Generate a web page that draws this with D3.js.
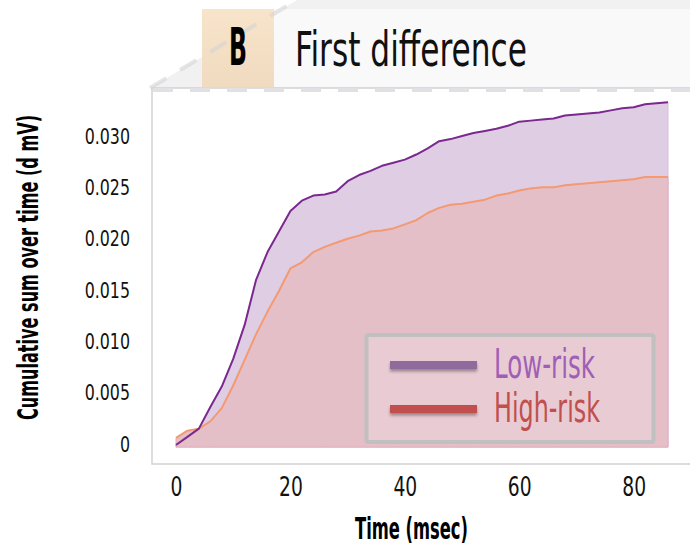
<!DOCTYPE html>
<html>
<head>
<meta charset="utf-8">
<script src="https://cdn.jsdelivr.net/npm/d3@7/dist/d3.min.js"></script>
<style>
  html, body { margin: 0; padding: 0; background: #ffffff; }
  svg { display: block; }
  text { font-family: "Liberation Sans Narrow", "DejaVu Sans Condensed", "Liberation Sans", Roboto, sans-serif; }
</style>
</head>
<body>
<svg id="chart" width="690" height="545"></svg>
<script>
// ---- data ----
const timeMs = [0, 2, 4, 6, 8, 10, 12, 14, 16, 18, 20, 22, 24, 26, 28, 30, 32, 34, 36, 38, 40, 42,
                44, 46, 48, 50, 52, 54, 56, 58, 60, 62, 64, 66, 68, 70, 72, 74, 76, 78, 80, 82, 84, 86];
const lowRisk = [-0.0002, 0.0006, 0.0014, 0.0035, 0.0055, 0.0082, 0.0115, 0.0159, 0.0186, 0.0206,
                 0.0226, 0.0236, 0.0241, 0.0242, 0.0245, 0.0255, 0.0261, 0.0265, 0.0270, 0.0273,
                 0.0276, 0.0281, 0.0287, 0.0294, 0.0296, 0.0299, 0.0302, 0.0304, 0.0306, 0.0309,
                 0.0313, 0.0314, 0.0315, 0.0316, 0.0319, 0.0320, 0.0321, 0.0322, 0.0324, 0.0326,
                 0.0327, 0.0330, 0.0331, 0.0332];
const highRisk = [0.0005, 0.0012, 0.0014, 0.0021, 0.0034, 0.0056, 0.0081, 0.0106, 0.0128, 0.0148,
                  0.0170, 0.0176, 0.0186, 0.0191, 0.0195, 0.0199, 0.0202, 0.0206, 0.0207, 0.0209,
                  0.0213, 0.0217, 0.0224, 0.0229, 0.0232, 0.0233, 0.0235, 0.0237, 0.0241, 0.0243,
                  0.0246, 0.0248, 0.0249, 0.0249, 0.0251, 0.0252, 0.0253, 0.0254, 0.0255, 0.0256,
                  0.0257, 0.0259, 0.0259, 0.0259];
const yTicks = [0, 0.005, 0.010, 0.015, 0.020, 0.025, 0.030];
const xTicks = [0, 20, 40, 60, 80];
const seriesNames = ["Low-risk", "High-risk"];
const panelLetter = "B";
const panelTitle = "First difference";
const xTitle = "Time (msec)";
const yTitle = "Cumulative sum over time (d mV)";
const areaFloor = -0.0004;

// ---- styling ----
const lineColors = { low: "#7a2a8e", high: "#f49a72" };
const fillColors = { low: "#dfcde4", high: "#e4bfc8" };
const legendSwatch = ["#8e6b9d", "#c0504d"];
const legendText = ["#9f5fb6", "#c0504d"];

const svg = d3.select("#chart");
const defs = svg.append("defs");

const shadow = defs.append("filter").attr("id", "swatchShadow")
  .attr("filterUnits", "userSpaceOnUse")
  .attr("x", 370).attr("y", 340).attr("width", 130).attr("height", 90);
shadow.append("feDropShadow").attr("dx", 0).attr("dy", 2.5).attr("stdDeviation", 1.6)
  .attr("flood-color", "#000").attr("flood-opacity", 0.35);

const letterGrad = defs.append("linearGradient").attr("id", "letterGrad")
  .attr("x1", 0).attr("y1", 0).attr("x2", 0).attr("y2", 1);
letterGrad.append("stop").attr("offset", "0%").attr("stop-color", "#f8e4ca");
letterGrad.append("stop").attr("offset", "100%").attr("stop-color", "#f0dbc0");

// squeeze text horizontally to a target width (or by a factor)
function squeeze(sel, target, factor) {
  sel.each(function () {
    const w = this.getComputedTextLength();
    const len = target != null ? target : w * factor;
    d3.select(this).attr("textLength", len).attr("lengthAdjust", "spacingAndGlyphs");
  });
}

// ---- header ----
svg.append("polygon")
  .attr("points", [[150, 88], [297, 0], [690, 0], [690, 88]].map(p => p.join(",")).join(" "))
  .attr("fill", "#f1f1f1");
svg.append("rect").attr("x", 202).attr("y", 9).attr("width", 72).attr("height", 78)
  .attr("fill", "url(#letterGrad)");
svg.append("rect").attr("x", 274).attr("y", 9).attr("width", 416).attr("height", 78)
  .attr("fill", "#f9f9f9");
svg.append("line").attr("x1", 150).attr("y1", 88).attr("x2", 297).attr("y2", 0)
  .attr("stroke", "#d4d4d4").attr("stroke-opacity", 0.6).attr("stroke-width", 4)
  .attr("stroke-dasharray", "19 16");

const letter = svg.append("text").attr("x", 238).attr("y", 65)
  .attr("text-anchor", "middle").attr("font-size", 51).attr("font-weight", "bold")
  .attr("fill", "#000").text(panelLetter);
squeeze(letter, 18);

const title = svg.append("text").attr("x", 295).attr("y", 66)
  .attr("font-size", 48).attr("fill", "#111").text(panelTitle);
squeeze(title, 232);

// ---- plot panel ----
svg.append("rect").attr("x", 152).attr("y", 88).attr("width", 560).attr("height", 376)
  .attr("fill", "#ffffff").attr("stroke", "#d2d2d2").attr("stroke-width", 1.5);
svg.append("line").attr("x1", 153).attr("y1", 90).attr("x2", 690).attr("y2", 90)
  .attr("stroke", "#dfe1e4").attr("stroke-width", 4).attr("stroke-dasharray", "20 17");

// ---- scales ----
const x = d3.scaleLinear().domain([0, 86]).range([176, 668]);
const y = d3.scaleLinear().domain([0, 0.03]).range([443, 135]);

const lowData = timeMs.map((t, i) => ({ t, v: lowRisk[i] }));
const highData = timeMs.map((t, i) => ({ t, v: highRisk[i] }));

const area = d3.area().x(d => x(d.t)).y0(y(areaFloor)).y1(d => y(d.v));
const line = d3.line().x(d => x(d.t)).y(d => y(d.v));

svg.append("path").datum(lowData).attr("d", area)
  .attr("fill", fillColors.low).attr("stroke", "#d7bfdf").attr("stroke-width", 1);
svg.append("path").datum(highData).attr("d", area)
  .attr("fill", fillColors.high).attr("stroke", "#e2adb9").attr("stroke-width", 1);
svg.append("path").datum(highData).attr("d", line)
  .attr("fill", "none").attr("stroke", lineColors.high).attr("stroke-width", 2)
  .attr("stroke-linejoin", "round");
svg.append("path").datum(lowData).attr("d", line)
  .attr("fill", "none").attr("stroke", lineColors.low).attr("stroke-width", 2)
  .attr("stroke-linejoin", "round");

// ---- legend ----
const legend = svg.append("g");
legend.append("rect").attr("x", 366.5).attr("y", 335).attr("width", 287).attr("height", 107)
  .attr("rx", 2).attr("fill", "#ffffff").attr("fill-opacity", 0.2)
  .attr("stroke", "#c0c0c0").attr("stroke-width", 4);
const legendRows = [365, 409];
seriesNames.forEach((name, i) => {
  legend.append("rect").attr("x", 390).attr("width", 87)
    .attr("y", legendRows[i] - 4).attr("height", 8)
    .attr("fill", legendSwatch[i])
    .attr("filter", "url(#swatchShadow)");
  const t = legend.append("text").attr("x", 494).attr("y", legendRows[i] + 13)
    .attr("font-size", 41).attr("fill", legendText[i]).text(name);
  squeeze(t, i === 0 ? 101 : 106);
});

// ---- axes ----
const yAxis = svg.append("g").attr("transform", "translate(130,0)")
  .call(d3.axisLeft(y).tickValues(yTicks).tickSize(0).tickPadding(0)
    .tickFormat(d => d === 0 ? "0" : d3.format(".3f")(d)));
yAxis.select(".domain").remove();
yAxis.selectAll("text").attr("font-size", 22).attr("fill", "#111")
  .attr("font-family", null).attr("dy", null).attr("y", 8);
squeeze(yAxis.selectAll("text"), null, 0.8);

const xAxis = svg.append("g").attr("transform", "translate(0,474)")
  .call(d3.axisBottom(x).tickValues(xTicks).tickSize(0).tickPadding(0).tickFormat(d3.format("d")));
xAxis.select(".domain").remove();
xAxis.selectAll("text").attr("font-size", 26).attr("fill", "#111")
  .attr("font-family", null).attr("dy", null).attr("y", 22);
squeeze(xAxis.selectAll("text"), null, 0.8);

const xLab = svg.append("text").attr("x", 411.5).attr("y", 539)
  .attr("text-anchor", "middle").attr("font-size", 30).attr("font-weight", "bold")
  .attr("fill", "#000").text(xTitle);
squeeze(xLab, 113);

const yLab = svg.append("text").attr("transform", "translate(38,267.5) rotate(-90)")
  .attr("text-anchor", "middle").attr("font-size", 29).attr("font-weight", "bold")
  .attr("fill", "#000").text(yTitle);
squeeze(yLab, 305);
</script>
</body>
</html>
